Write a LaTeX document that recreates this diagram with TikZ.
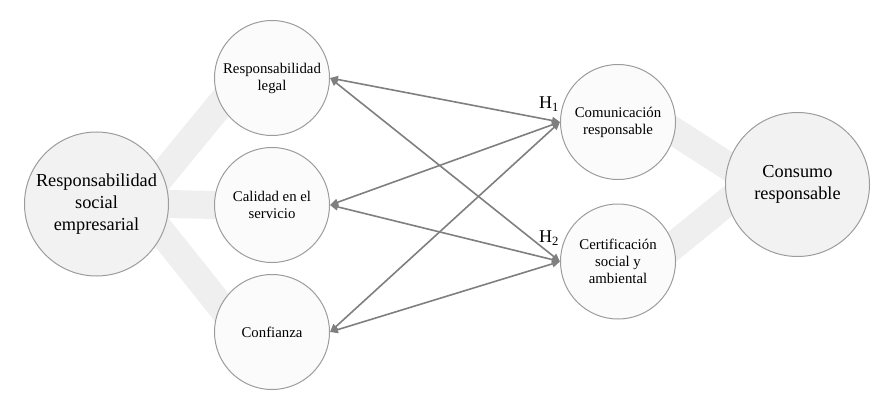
\documentclass[tikz,border=0pt]{standalone}
\usepackage{fontspec}
\setmainfont{Liberation Serif}
\definecolor{BandGrey}{HTML}{EFEFEF}
\definecolor{LinkGrey}{HTML}{7F7F7F}
\definecolor{RimGrey}{HTML}{9C9C9C}
\definecolor{CoreFill}{HTML}{F2F2F2}
\definecolor{SideFill}{HTML}{FBFBFB}
\colorlet{ColourBand}{BandGrey}
\colorlet{ColourLink}{LinkGrey}
\colorlet{ColourRim}{RimGrey}
\usetikzlibrary{arrows.meta}
\usetikzlibrary{positioning,backgrounds}
\tikzset{
  model style/.style={
    x=1pt, y=1pt,
    node distance=11pt,
  },
  construct/.style={
    draw=ColourRim,
    line width=1pt,
    circle,
    inner sep=0pt,
    align=center,
    text=black,
  },
  big construct/.style={
    construct,
    fill=CoreFill,
    minimum size=144pt,
    font=\fontsize{18.3}{22}\selectfont,
  },
  small construct/.style={
    construct,
    fill=SideFill,
    minimum size=115pt,
    font=\fontsize{14.8}{17}\selectfont,
  },
  band/.style={
    draw=ColourBand,
    line width=28pt,
    shorten <=-14pt,
    shorten >=-14pt,
  },
  link/.style={
    draw=ColourLink,
    line width=1.6pt,
    {Triangle[length=8pt,width=7pt]}-{Triangle[length=8pt,width=7pt]},
  },
  hyp label/.style={
    inner sep=0pt,
    font=\fontsize{18}{20}\selectfont,
  },
}

\begin{document}
\begin{tikzpicture}[model style]
  \useasboundingbox (0,0) rectangle (888,-406);
  % constructs
  \node[big construct] (rse) at (96.5,-204) {Responsabilidad\\social\\empresarial};
  \node[small construct] (legal) at (272,-78) {Responsabilidad\\legal};
  \node[small construct] (calidad) [below=of legal] {Calidad en el\\servicio};
  \node[small construct] (confianza) [below=of calidad] {Confianza};
  \node[small construct] (com) at (618,-122) {Comunicación\\responsable};
  \node[small construct] (cert) [below=23.5pt of com] {Certificación\\social y\\ambiental};
  \node[big construct] (consumo) at (797.5,-184.5) {Consumo\\responsable};
  % grey bands behind the circles
  \begin{scope}[on background layer]
    \draw[band] (rse.24) -- (legal.207);
    \draw[band] (rse.east) -- (calidad.west);
    \draw[band] (rse.-24) -- (confianza.153);
    \draw[band] (com.-10) -- (consumo.165);
    \draw[band] (cert.16) -- (consumo.194.5);
  \end{scope}
  % hypotheses
  \draw[link] (legal.east) -- (com.west);
  \draw[link] (legal.east) -- (cert.west);
  \draw[link] (calidad.east) -- (com.west);
  \draw[link] (calidad.east) -- (cert.west);
  \draw[link] (confianza.east) -- (com.west);
  \draw[link] (confianza.east) -- (cert.west);
  \node[hyp label, anchor=base east] (h1) at ([shift={(-1,13)}]com.west) {H\textsubscript{1}};
  \node[hyp label, anchor=base east] (h2) at ([shift={(-1,19)}]cert.west) {H\textsubscript{2}};
\end{tikzpicture}
\end{document}
